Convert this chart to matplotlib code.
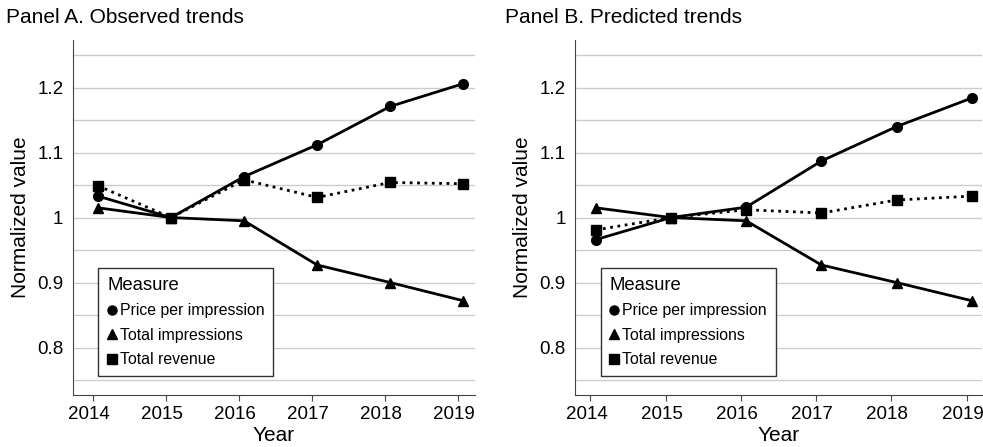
import matplotlib
matplotlib.use("Agg")
import matplotlib.pyplot as plt
from matplotlib.lines import Line2D
from matplotlib.transforms import ScaledTranslation
import numpy as np

plt.rcParams["font.family"] = ["Liberation Sans", "DejaVu Sans"]

years = [2014, 2015, 2016, 2017, 2018, 2019]
measures = ["Price per impression", "Total impressions", "Total revenue"]

# Panel A: observed
obs_price = [1.033, 1.000, 1.063, 1.112, 1.171, 1.206]
obs_impr = [1.015, 1.000, 0.995, 0.927, 0.900, 0.872]
obs_rev = [1.049, 1.000, 1.058, 1.031, 1.054, 1.052]

# Panel B: predicted
pred_price = [0.966, 1.000, 1.016, 1.087, 1.140, 1.184]
pred_impr = [1.015, 1.000, 0.995, 0.927, 0.900, 0.872]
pred_rev = [0.981, 1.000, 1.012, 1.007, 1.027, 1.033]

markers = ["o", "^", "s"]
styles = ["-", "-", ":"]


def draw_panel(ax, series, xlim):
    x = np.array(years) + 0.07
    for vals, m, ls in zip(series, markers, styles):
        ax.plot(x, vals, color="black", lw=2, ls=ls, marker=m, ms=7,
                zorder=3)
    ax.set_xlim(*xlim)
    ax.set_ylim(0.727, 1.273)
    ax.set_xticks(years)
    ax.set_yticks([0.8, 0.9, 1.0, 1.1, 1.2])
    ax.set_yticklabels(["0.8", "0.9", "1", "1.1", "1.2"])
    ax.set_yticks(np.arange(0.75, 1.26, 0.05), minor=True)
    ax.tick_params(axis="y", which="both", length=0, labelsize=13.5, pad=7)
    ax.tick_params(axis="x", length=4, labelsize=13.5, color="#444444", pad=4)
    # year labels sit a little left of their ticks in the original
    shift = ScaledTranslation(-4 / 100, 0, ax.figure.dpi_scale_trans)
    for lab in ax.get_xticklabels():
        lab.set_transform(lab.get_transform() + shift)
    ax.grid(axis="y", which="both", color="#cccccc", lw=1)
    ax.set_axisbelow(True)
    for s in ["top", "right"]:
        ax.spines[s].set_visible(False)
    for s in ["left", "bottom"]:
        ax.spines[s].set_color("#444444")
    ax.set_xlabel("Year", fontsize=15, labelpad=2)
    ax.set_ylabel("Normalized value", fontsize=15, labelpad=5)

    handles = [Line2D([], [], color="black", ls="none", marker=m, ms=6.5)
               for m in markers]
    leg = ax.legend(handles, measures, title="Measure", loc="lower left",
                    bbox_to_anchor=(0.063, 0.054), borderaxespad=0,
                    fontsize=11.4, title_fontsize=13.3, handlelength=0.6,
                    handletextpad=0.2, fancybox=False, framealpha=1,
                    edgecolor="#333333", alignment="left",
                    borderpad=0.55, labelspacing=0.6)
    leg.get_frame().set_linewidth(1)


fig = plt.figure(figsize=(9.83, 4.47), dpi=100)
axA = fig.add_axes([0.0743, 0.1163, 0.409, 0.794])
axB = fig.add_axes([0.5853, 0.1163, 0.4134, 0.794])

draw_panel(axA, [obs_price, obs_impr, obs_rev], (2013.73, 2019.23))
draw_panel(axB, [pred_price, pred_impr, pred_rev], (2013.80, 2019.20))

fig.text(0.006, 0.96, "Panel A. Observed trends", fontsize=15, va="center")
fig.text(0.514, 0.96, "Panel B. Predicted trends", fontsize=15, va="center")

fig.savefig("out.png", dpi=100)
